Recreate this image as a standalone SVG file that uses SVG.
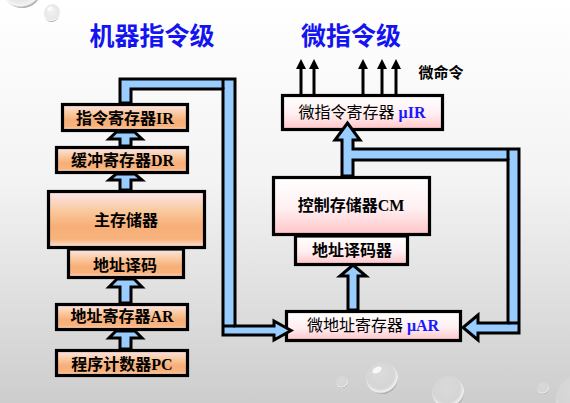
<svg xmlns="http://www.w3.org/2000/svg" width="570" height="403" viewBox="0 0 570 403">
<defs>
<linearGradient id="bg" x1="0" y1="0" x2="0" y2="1">
<stop offset="0" stop-color="#ffffff"/>
<stop offset="0.45" stop-color="#f3f3f3"/>
<stop offset="1" stop-color="#cdcdcd"/>
</linearGradient>
<linearGradient id="og" x1="0" y1="0" x2="0" y2="1">
<stop offset="0" stop-color="#fde6ee"/>
<stop offset="0.35" stop-color="#f9c99c"/>
<stop offset="0.62" stop-color="#f7ae78"/>
<stop offset="0.85" stop-color="#f8b47e"/>
<stop offset="1" stop-color="#fde2dc"/>
</linearGradient>
<linearGradient id="pg" x1="0" y1="0" x2="0" y2="1">
<stop offset="0" stop-color="#ffffff"/>
<stop offset="0.55" stop-color="#ffeff1"/>
<stop offset="1" stop-color="#ffc4c8"/>
</linearGradient>
<radialGradient id="bub" cx="0.45" cy="0.4" r="0.6">
<stop offset="0" stop-color="#e4e4e4" stop-opacity="0.5"/>
<stop offset="0.7" stop-color="#d8d8d8" stop-opacity="0.6"/>
<stop offset="0.9" stop-color="#f4f4f4" stop-opacity="0.9"/>
<stop offset="1" stop-color="#9a9a9a" stop-opacity="0.9"/>
</radialGradient>
<marker id="ah" markerUnits="userSpaceOnUse" markerWidth="10" markerHeight="10" refX="4" refY="5" orient="auto">
<path d="M0,0 L10,5 L0,10 Z" fill="#000"/>
</marker>
<style>
.lb{fill:url(#og);stroke:#000;stroke-width:3.2}
.rb{fill:url(#pg);stroke:#000;stroke-width:3.2}
.pipe{fill:#99ccff;stroke:#000;stroke-width:3;stroke-linejoin:miter}
.seam{stroke:#000;stroke-width:3;fill:none}
.t{font-family:"Liberation Serif","Noto Sans CJK SC",serif;font-size:16px;text-anchor:middle;fill:#000}
.b{font-weight:bold}
.mu{fill:#1a1aff;font-weight:bold}
.title{font-family:"Noto Sans CJK SC","Noto Sans",sans-serif;font-size:25px;font-weight:bold;fill:#1414f0;text-anchor:middle}
.sig{stroke:#000;stroke-width:3;marker-end:url(#ah)}
.bubble{fill:url(#bub)}
.hl{fill:#ffffff;opacity:0.8}
</style>
</defs>
<rect x="0" y="0" width="570" height="403" fill="url(#bg)"/>
<g id="bubbles">
<circle class="bubble" cx="22" cy="-12" r="20"/>
<ellipse class="bubble" cx="52" cy="13" rx="8" ry="9" transform="rotate(20 52 13)"/>
<circle class="bubble" cx="342" cy="382" r="6"/>
<circle class="bubble" cx="382" cy="378" r="16"/>
<circle class="bubble" cx="448" cy="392" r="16"/>
<circle class="bubble" cx="543" cy="388" r="6"/>
<circle class="bubble" cx="578" cy="398" r="22"/>
<ellipse class="hl" cx="377" cy="370" rx="5" ry="3" transform="rotate(-30 377 370)"/>
<ellipse class="hl" cx="50" cy="9" rx="3" ry="2" transform="rotate(-30 50 9)"/>
</g>
<g id="titles">
<text class="title" x="152" y="45">机器指令级</text>
<text class="title" x="351" y="45">微指令级</text>
</g>
<g id="node-ir"><rect class="lb" x="62.5" y="104.5" width="125" height="26"/><text class="t b" x="125" y="123.5">指令寄存器IR</text></g>
<g id="node-dr"><rect class="lb" x="56.5" y="147.5" width="131" height="25"/><text class="t b" x="122.5" y="166">缓冲寄存器DR</text></g>
<g id="node-decoder"><rect class="lb" x="68.5" y="249" width="115" height="28.5"/><text class="t b" x="125" y="271">地址译码</text></g>
<g id="node-mem"><rect class="lb" x="48.5" y="191.5" width="156" height="56"/><text class="t b" x="126" y="226">主存储器</text></g>
<g id="node-ar"><rect class="lb" x="56.5" y="304.5" width="131" height="25"/><text class="t b" x="122" y="321.5">地址寄存器AR</text></g>
<g id="node-pc"><rect class="lb" x="56.5" y="350.5" width="131" height="25"/><text class="t b" x="122" y="370">程序计数器PC</text></g>
<g id="node-uir"><rect class="rb" x="282.5" y="95.5" width="160" height="34"/><text class="t" x="362" y="118">微指令寄存器 <tspan class="mu">μIR</tspan></text></g>
<g id="node-cm"><rect class="rb" x="273.5" y="177.5" width="156" height="57"/><text class="t b" x="351" y="211">控制存储器CM</text></g>
<g id="node-udec"><rect class="rb" x="295.5" y="236" width="112" height="28.5"/><text class="t b" x="352" y="256">地址译码器</text></g>
<g id="node-uar"><rect class="rb" x="286.5" y="311.5" width="174" height="29"/><text class="t" x="373" y="331">微地址寄存器 <tspan class="mu">μAR</tspan></text></g>
<g id="connectors">
<path class="pipe" d="M120,146 V139 H109 L116.5,132 H134.5 L142,139 H131 V146 Z"/>
<path class="pipe" d="M120,190 V180 H109 L116,174 H135 L142,180 H131 V190 Z"/>
<path class="pipe" d="M120,303 V287 H109 L117,279 H134 L142,287 H131 V303 Z"/>
<path class="pipe" d="M120,349 V338 H109 L116,331 H135 L142,338 H131 V349 Z"/>
<path class="pipe" d="M120,103 V79 H235 V326 H274 V321 L291,330.5 L274,340 V335 H223 V89 H131 V103 Z"/>
<path class="seam" d="M223,79 V89 M223,326 H235"/>
<path class="pipe" d="M342,176 V140 H335 L347.5,123 L360,140 H353 V149 H519 V333 H478 V340 L463,327.5 L478,315 V323 H508 V160 H353 V176 Z"/>
<path class="seam" d="M508,149 V160 M508,323 H519"/>
<path class="pipe" d="M348,310 V276 H340 L353,265 L366,276 H358 V310 Z"/>
<line class="sig" x1="301" y1="94" x2="301" y2="65"/>
<line class="sig" x1="314" y1="94" x2="314" y2="65"/>
<line class="sig" x1="363" y1="94" x2="363" y2="65"/>
<line class="sig" x1="382" y1="94" x2="382" y2="65"/>
<line class="sig" x1="396" y1="94" x2="396" y2="65"/>
</g>
<text x="441" y="77.5" font-family="'Noto Sans CJK SC',sans-serif" font-size="15" font-weight="bold" text-anchor="middle">微命令</text>
</svg>
